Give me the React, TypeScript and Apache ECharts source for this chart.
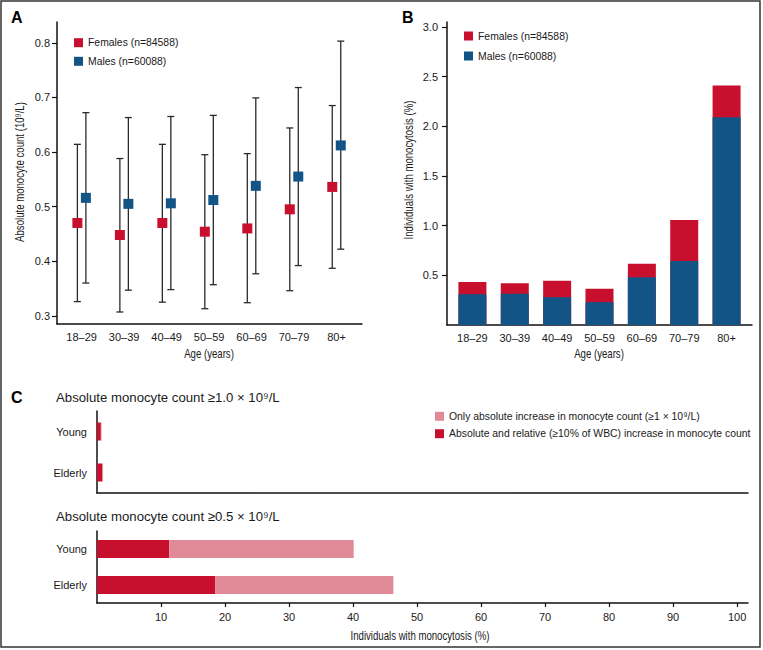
import React, { useEffect, useRef } from 'react';
import * as echarts from 'echarts';

// ---------- data ----------
const ageGroups = ['18–29', '30–39', '40–49', '50–59', '60–69', '70–79', '80+'];

// Panel A: mean and error-bar limits (10^9/L)
const femaleMean = [0.470, 0.448, 0.470, 0.454, 0.460, 0.495, 0.536];
const femaleLow = [0.326, 0.307, 0.325, 0.313, 0.324, 0.346, 0.387];
const femaleHigh = [0.614, 0.588, 0.614, 0.595, 0.597, 0.644, 0.685];
const maleMean = [0.516, 0.505, 0.506, 0.512, 0.538, 0.555, 0.612];
const maleLow = [0.360, 0.347, 0.348, 0.357, 0.377, 0.392, 0.422];
const maleHigh = [0.672, 0.663, 0.665, 0.667, 0.699, 0.718, 0.803];

// Panel B: males segment and top of the stacked bar (males + females), %
const maleMonocytosis = [0.31, 0.315, 0.28, 0.23, 0.48, 0.645, 2.09];
const stackTopMonocytosis = [0.433, 0.419, 0.446, 0.366, 0.617, 1.057, 2.41];

// Panel C
const cohorts = ['Young', 'Elderly'];
const relAbsHigh = [0.6, 0.8];      // >=1.0 x10^9/L, absolute and relative
const onlyAbsHigh = [0.1, 0.15];    // >=1.0 x10^9/L, only absolute
const relAbsMod = [11.3, 18.5];     // >=0.5 x10^9/L, absolute and relative
const onlyAbsMod = [28.8, 27.8];    // >=0.5 x10^9/L, only absolute

const aTicks = [0.3, 0.4, 0.5, 0.6, 0.7, 0.8];
const bTicks = [0.5, 1.0, 1.5, 2.0, 2.5, 3.0];
const cTicks = [10, 20, 30, 40, 50, 60, 70, 80, 90, 100];
const groupIdx = [0, 1, 2, 3, 4, 5, 6];

// ---------- styles ----------
const RED = '#C8102E';
const BLUE = '#135487';
const PINK = '#E08A98';
const INK = '#1a1a1a';
const SANS = '"Liberation Sans", Arial, sans-serif';
const axisLine = { show: true, onZero: false, lineStyle: { color: '#111', width: 1.5 } };
const tickLabel = { color: INK, fontSize: 11, fontFamily: SANS };

const errorBarRender = (params: any, api: any) => {
  const x = api.value(0);
  const lo = api.coord([x, api.value(1)]);
  const hi = api.coord([x, api.value(2)]);
  const cap = 3.5;
  const style = { stroke: '#2a2a2a', lineWidth: 1.3 };
  return {
    type: 'group',
    children: [
      { type: 'line', shape: { x1: lo[0], y1: lo[1], x2: hi[0], y2: hi[1] }, style },
      { type: 'line', shape: { x1: lo[0] - cap, y1: lo[1], x2: lo[0] + cap, y2: lo[1] }, style },
      { type: 'line', shape: { x1: hi[0] - cap, y1: hi[1], x2: hi[0] + cap, y2: hi[1] }, style },
    ],
  };
};

const legendItem = (x: number, y: number, color: string, text: string) => [
  { type: 'rect', shape: { x, y: y - 4.5, width: 9, height: 9 }, style: { fill: color } },
  {
    type: 'text',
    x: x + 14,
    y,
    style: { text, fill: INK, fontSize: 10.4, fontFamily: SANS, verticalAlign: 'middle' },
  },
];

const panelLetter = (x: number, y: number, t: string) => ({
  type: 'text',
  x,
  y,
  style: { text: t, fill: '#000', fontSize: 16, fontWeight: 'bold', fontFamily: SANS, verticalAlign: 'middle' },
});

// condensed axis title (scaled along its reading direction)
const axisTitle = (x: number, y: number, text: string, vertical: boolean) => ({
  type: 'text',
  x,
  y,
  rotation: vertical ? Math.PI / 2 : 0,
  scaleX: 0.77,
  style: { text, fill: INK, fontSize: 12.5, fontFamily: SANS, align: 'center', verticalAlign: 'middle' },
});

export default function App() {
  const ref = useRef<HTMLDivElement>(null);

  useEffect(() => {
    if (!ref.current) return;
    const chart = echarts.init(ref.current, undefined, { renderer: 'svg' });

    const catLabel = { ...tickLabel, customValues: groupIdx, formatter: (v: number) => ageGroups[Math.round(v)], margin: 7 };

    const option: any = {
      animation: false,
      backgroundColor: '#fff',
      grid: [
        { left: 57, top: 22, width: 305, height: 302 },
        { left: 447, top: 22, width: 305, height: 303 },
        { left: 97, top: 411, width: 651, height: 82 },
        { left: 97, top: 531, width: 651, height: 72 },
      ],
      xAxis: [
        {
          gridIndex: 0, type: 'value', min: -0.58, max: 6.6,
          axisLine, axisTick: { show: false }, splitLine: { show: false }, axisLabel: catLabel,
        },
        {
          gridIndex: 1, type: 'value', min: -0.6, max: 6.6,
          axisLine, axisTick: { show: false }, splitLine: { show: false }, axisLabel: catLabel,
        },
        {
          gridIndex: 2, type: 'value', min: 0, max: 101.7,
          axisLine, axisTick: { show: false }, axisLabel: { show: false }, splitLine: { show: false },
        },
        {
          gridIndex: 3, type: 'value', min: 0, max: 101.7,
          axisLine,
          axisTick: { show: true, customValues: cTicks, length: 4, lineStyle: { color: '#111', width: 1.2 } },
          axisLabel: { ...tickLabel, customValues: cTicks, margin: 8 },
          splitLine: { show: false },
        },
      ],
      yAxis: [
        {
          gridIndex: 0, type: 'value', min: 0.285, max: 0.838,
          axisLine,
          axisTick: { show: true, customValues: aTicks, length: 5, lineStyle: { color: '#111', width: 1.2 } },
          axisLabel: { ...tickLabel, customValues: aTicks, formatter: (v: number) => v.toFixed(1), margin: 7 },
          splitLine: { show: false },
        },
        {
          gridIndex: 1, type: 'value', min: 0, max: 3.05,
          axisLine,
          axisTick: { show: true, customValues: bTicks, length: 5, lineStyle: { color: '#111', width: 1.2 } },
          axisLabel: { ...tickLabel, customValues: bTicks, formatter: (v: number) => v.toFixed(1), margin: 9 },
          splitLine: { show: false },
        },
        {
          gridIndex: 2, type: 'category', data: cohorts, inverse: true,
          axisLine, axisTick: { show: false },
          axisLabel: { ...tickLabel, margin: 10 },
        },
        {
          gridIndex: 3, type: 'category', data: cohorts, inverse: true,
          axisLine, axisTick: { show: false },
          axisLabel: { ...tickLabel, margin: 10 },
        },
      ],
      series: [
        {
          type: 'custom', name: 'Females range', xAxisIndex: 0, yAxisIndex: 0,
          renderItem: errorBarRender, encode: { x: 0, y: [1, 2] },
          data: groupIdx.map((i) => [i - 0.1, femaleLow[i], femaleHigh[i]]), z: 2,
        },
        {
          type: 'custom', name: 'Males range', xAxisIndex: 0, yAxisIndex: 0,
          renderItem: errorBarRender, encode: { x: 0, y: [1, 2] },
          data: groupIdx.map((i) => [i + 0.1, maleLow[i], maleHigh[i]]), z: 2,
        },
        {
          type: 'scatter', name: 'Females', xAxisIndex: 0, yAxisIndex: 0, symbol: 'rect', symbolSize: 10,
          itemStyle: { color: RED, opacity: 1 }, data: groupIdx.map((i) => [i - 0.1, femaleMean[i]]), z: 3,
        },
        {
          type: 'scatter', name: 'Males', xAxisIndex: 0, yAxisIndex: 0, symbol: 'rect', symbolSize: 10,
          itemStyle: { color: BLUE, opacity: 1 }, data: groupIdx.map((i) => [i + 0.1, maleMean[i]]), z: 3,
        },
        {
          type: 'bar', name: 'Females B', xAxisIndex: 1, yAxisIndex: 1, barWidth: 28, barGap: '-100%',
          itemStyle: { color: RED }, data: groupIdx.map((i) => [i, stackTopMonocytosis[i]]), z: 2,
        },
        {
          type: 'bar', name: 'Males B', xAxisIndex: 1, yAxisIndex: 1, barWidth: 28, barGap: '-100%',
          itemStyle: { color: BLUE }, data: groupIdx.map((i) => [i, maleMonocytosis[i]]), z: 3,
        },
        {
          type: 'bar', name: 'Abs+rel high', xAxisIndex: 2, yAxisIndex: 2, stack: 'c1', barWidth: 18,
          itemStyle: { color: RED }, data: relAbsHigh,
        },
        {
          type: 'bar', name: 'Only abs high', xAxisIndex: 2, yAxisIndex: 2, stack: 'c1', barWidth: 18,
          itemStyle: { color: PINK }, data: onlyAbsHigh,
        },
        {
          type: 'bar', name: 'Abs+rel mod', xAxisIndex: 3, yAxisIndex: 3, stack: 'c2', barWidth: 18,
          itemStyle: { color: RED }, data: relAbsMod,
        },
        {
          type: 'bar', name: 'Only abs mod', xAxisIndex: 3, yAxisIndex: 3, stack: 'c2', barWidth: 18,
          itemStyle: { color: PINK }, data: onlyAbsMod,
        },
      ],
      graphic: [
        {
          type: 'rect', shape: { x: 1, y: 1, width: 759, height: 646 },
          style: { fill: 'none', stroke: '#333', lineWidth: 1.5 }, silent: true,
        },
        panelLetter(11, 17, 'A'),
        panelLetter(402, 17, 'B'),
        panelLetter(11, 397, 'C'),
        axisTitle(20, 172, 'Absolute monocyte count (10⁹/L)', true),
        axisTitle(409, 170, 'Individuals with monocytosis (%)', true),
        axisTitle(209, 354, 'Age (years)', false),
        axisTitle(599, 354, 'Age (years)', false),
        axisTitle(420, 636, 'Individuals with monocytosis (%)', false),
        ...legendItem(74, 42.7, RED, 'Females (n=84588)'),
        ...legendItem(74, 61.3, BLUE, 'Males (n=60088)'),
        ...legendItem(464, 36, RED, 'Females (n=84588)'),
        ...legendItem(464, 56, BLUE, 'Males (n=60088)'),
        ...legendItem(435, 416.3, PINK, 'Only absolute increase in monocyte count (≥1 × 10⁹/L)'),
        ...legendItem(435, 433.7, RED, 'Absolute and relative (≥10% of WBC) increase in monocyte count'),
        {
          type: 'text', x: 56, y: 397.5,
          style: { text: 'Absolute monocyte count ≥1.0 × 10⁹/L', fill: INK, fontSize: 13.2, fontFamily: SANS, verticalAlign: 'middle' },
        },
        {
          type: 'text', x: 56, y: 516.7,
          style: { text: 'Absolute monocyte count ≥0.5 × 10⁹/L', fill: INK, fontSize: 13.2, fontFamily: SANS, verticalAlign: 'middle' },
        },
      ],
    };

    chart.setOption(option);
    return () => chart.dispose();
  }, []);

  return (
    <div
      ref={ref}
      style={{ position: 'fixed', left: 0, top: 0, width: 763, height: 650, background: '#fff' }}
    />
  );
}
